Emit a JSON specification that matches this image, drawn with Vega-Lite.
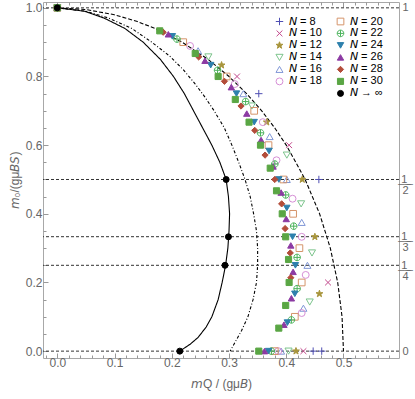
{
  "$schema": "https://vega.github.io/schema/vega-lite/v6.json",
  "width": 356,
  "height": 356,
  "autosize": "none",
  "padding": {"left": 43, "top": 2, "right": 16, "bottom": 41},
  "background": "white",
  "config": {"view": {"stroke": "#a8a8a8", "strokeWidth": 1}},
  "resolve": {"axis": {"x": "independent", "y": "independent"}},
  "layer": [
    {
      "data": {"values": [{"v": 0}, {"v": 0.25}, {"v": 0.333333}, {"v": 0.5}, {"v": 1}]},
      "mark": {"type": "rule", "strokeDash": [3, 2], "color": "#333333", "strokeWidth": 1},
      "encoding": {
        "y": {
          "field": "v", "type": "quantitative",
          "scale": {"domain": [-0.02, 1.017], "nice": false, "zero": false},
          "axis": {
            "orient": "left",
            "values": [0, 0.05, 0.1, 0.15, 0.2, 0.25, 0.3, 0.35, 0.4, 0.45, 0.5, 0.55, 0.6, 0.65, 0.7, 0.75, 0.8, 0.85, 0.9, 0.95, 1],
            "labelExpr": "abs(datum.value*5-round(datum.value*5))<0.001 ? format(datum.value,'.1f') : ''",
            "tickSize": {"condition": {"test": "abs(datum.value*5-round(datum.value*5))<0.001", "value": -5}, "value": -3},
            "tickColor": "#999999", "domain": false, "grid": false,
            "labelColor": "#666666", "labelFont": "Liberation Sans", "labelFontSize": 12, "labelPadding": 6,
            "labelOverlap": false, "labelFlush": false,
            "title": "𝘮₀/(gμ𝘉𝘚)", "titleColor": "#666666", "titleFont": "Liberation Sans", "titleFontSize": 12,
            "titleFontWeight": "normal", "titlePadding": 4
          }
        }
      }
    },
    {
      "data": {"values": [
        {"c": "solid", "i": 0, "x": 0, "y": 1},
        {"c": "solid", "i": 1, "x": 0.048, "y": 0.99},
        {"c": "solid", "i": 2, "x": 0.082, "y": 0.97},
        {"c": "solid", "i": 3, "x": 0.118, "y": 0.94},
        {"c": "solid", "i": 4, "x": 0.15, "y": 0.9},
        {"c": "solid", "i": 5, "x": 0.18, "y": 0.85},
        {"c": "solid", "i": 6, "x": 0.203, "y": 0.8},
        {"c": "solid", "i": 7, "x": 0.222, "y": 0.75},
        {"c": "solid", "i": 8, "x": 0.238, "y": 0.7},
        {"c": "solid", "i": 9, "x": 0.254, "y": 0.65},
        {"c": "solid", "i": 10, "x": 0.27, "y": 0.6},
        {"c": "solid", "i": 11, "x": 0.284, "y": 0.55},
        {"c": "solid", "i": 12, "x": 0.295, "y": 0.5},
        {"c": "solid", "i": 13, "x": 0.299, "y": 0.45},
        {"c": "solid", "i": 14, "x": 0.301, "y": 0.4},
        {"c": "solid", "i": 15, "x": 0.3, "y": 0.35},
        {"c": "solid", "i": 16, "x": 0.298, "y": 0.3},
        {"c": "solid", "i": 17, "x": 0.294, "y": 0.25},
        {"c": "solid", "i": 18, "x": 0.288, "y": 0.2},
        {"c": "solid", "i": 19, "x": 0.281, "y": 0.15},
        {"c": "solid", "i": 20, "x": 0.27, "y": 0.1},
        {"c": "solid", "i": 21, "x": 0.26, "y": 0.07},
        {"c": "solid", "i": 22, "x": 0.246, "y": 0.04},
        {"c": "solid", "i": 23, "x": 0.232, "y": 0.02},
        {"c": "solid", "i": 24, "x": 0.214, "y": 0},
        {"c": "dashdot", "i": 0, "x": 0, "y": 1},
        {"c": "dashdot", "i": 1, "x": 0.05, "y": 0.99},
        {"c": "dashdot", "i": 2, "x": 0.09, "y": 0.97},
        {"c": "dashdot", "i": 3, "x": 0.13, "y": 0.94},
        {"c": "dashdot", "i": 4, "x": 0.165, "y": 0.9},
        {"c": "dashdot", "i": 5, "x": 0.196, "y": 0.86},
        {"c": "dashdot", "i": 6, "x": 0.22, "y": 0.82},
        {"c": "dashdot", "i": 7, "x": 0.24, "y": 0.78},
        {"c": "dashdot", "i": 8, "x": 0.258, "y": 0.74},
        {"c": "dashdot", "i": 9, "x": 0.274, "y": 0.7},
        {"c": "dashdot", "i": 10, "x": 0.292, "y": 0.65},
        {"c": "dashdot", "i": 11, "x": 0.305, "y": 0.6},
        {"c": "dashdot", "i": 12, "x": 0.317, "y": 0.55},
        {"c": "dashdot", "i": 13, "x": 0.328, "y": 0.5},
        {"c": "dashdot", "i": 14, "x": 0.337, "y": 0.45},
        {"c": "dashdot", "i": 15, "x": 0.343, "y": 0.4},
        {"c": "dashdot", "i": 16, "x": 0.348, "y": 0.35},
        {"c": "dashdot", "i": 17, "x": 0.35, "y": 0.3},
        {"c": "dashdot", "i": 18, "x": 0.35, "y": 0.25},
        {"c": "dashdot", "i": 19, "x": 0.348, "y": 0.2},
        {"c": "dashdot", "i": 20, "x": 0.342, "y": 0.15},
        {"c": "dashdot", "i": 21, "x": 0.333, "y": 0.1},
        {"c": "dashdot", "i": 22, "x": 0.322, "y": 0.06},
        {"c": "dashdot", "i": 23, "x": 0.312, "y": 0.03},
        {"c": "dashdot", "i": 24, "x": 0.302, "y": 0},
        {"c": "dashed", "i": 0, "x": 0, "y": 1},
        {"c": "dashed", "i": 1, "x": 0.05, "y": 0.995},
        {"c": "dashed", "i": 2, "x": 0.0995, "y": 0.98},
        {"c": "dashed", "i": 3, "x": 0.14, "y": 0.96},
        {"c": "dashed", "i": 4, "x": 0.1706, "y": 0.94},
        {"c": "dashed", "i": 5, "x": 0.2179, "y": 0.9},
        {"c": "dashed", "i": 6, "x": 0.2634, "y": 0.85},
        {"c": "dashed", "i": 7, "x": 0.3, "y": 0.8},
        {"c": "dashed", "i": 8, "x": 0.3307, "y": 0.75},
        {"c": "dashed", "i": 9, "x": 0.3571, "y": 0.7},
        {"c": "dashed", "i": 10, "x": 0.38, "y": 0.65},
        {"c": "dashed", "i": 11, "x": 0.4, "y": 0.6},
        {"c": "dashed", "i": 12, "x": 0.4167, "y": 0.55},
        {"c": "dashed", "i": 13, "x": 0.433, "y": 0.5},
        {"c": "dashed", "i": 14, "x": 0.4583, "y": 0.4},
        {"c": "dashed", "i": 15, "x": 0.477, "y": 0.3},
        {"c": "dashed", "i": 16, "x": 0.4899, "y": 0.2},
        {"c": "dashed", "i": 17, "x": 0.4975, "y": 0.1},
        {"c": "dashed", "i": 18, "x": 0.5, "y": 0}
      ]},
      "mark": {"type": "line", "color": "black", "strokeWidth": 1.1},
      "encoding": {
        "x": {
          "field": "x", "type": "quantitative",
          "scale": {"domain": [-0.025, 0.597], "nice": false, "zero": false},
          "axis": {
            "orient": "bottom",
            "values": [-0.02, 0, 0.02, 0.04, 0.06, 0.08, 0.1, 0.12, 0.14, 0.16, 0.18, 0.2, 0.22, 0.24, 0.26, 0.28, 0.3, 0.32, 0.34, 0.36, 0.38, 0.4, 0.42, 0.44, 0.46, 0.48, 0.5, 0.52, 0.54, 0.56, 0.58],
            "labelExpr": "datum.value>=0 && abs(datum.value*10-round(datum.value*10))<0.001 ? format(datum.value,'.1f') : ''",
            "tickSize": {"condition": {"test": "abs(datum.value*10-round(datum.value*10))<0.001", "value": -5}, "value": -3},
            "tickColor": "#999999", "domain": false, "grid": false,
            "labelColor": "#666666", "labelFont": "Liberation Sans", "labelFontSize": 12, "labelPadding": 4,
            "labelOverlap": false, "labelFlush": false,
            "title": "𝘮Q / (gμ𝘉)", "titleColor": "#666666", "titleFont": "Liberation Sans", "titleFontSize": 12,
            "titleFontWeight": "normal", "titlePadding": 8
          }
        },
        "y": {
          "field": "y", "type": "quantitative",
          "scale": {"domain": [-0.02, 1.017], "nice": false, "zero": false},
          "axis": {
            "orient": "right",
            "values": [0, 0.25, 0.333333, 0.5, 1],
            "labelExpr": "datum.value > 0.9 ? '1' : datum.value > 0.4 ? ['\u2009\u03321\u0332\u2009\u0332','2'] : datum.value > 0.3 ? ['\u2009\u03321\u0332\u2009\u0332','3'] : datum.value > 0.2 ? ['\u2009\u03321\u0332\u2009\u0332','4'] : '0'",
            "ticks": false, "domain": false, "grid": false, "title": null,
            "labelAlign": "center", "labelPadding": 6, "labelLineHeight": 11,
            "labelColor": "#666666", "labelFont": "Liberation Sans", "labelFontSize": 11,
            "labelOverlap": false, "labelFlush": false
          }
        },
        "detail": {"field": "c", "type": "nominal"},
        "order": {"field": "i", "type": "quantitative"},
        "strokeDash": {
          "field": "c", "type": "nominal",
          "scale": {"domain": ["solid", "dashdot", "dashed"], "range": [[1, 0], [3, 2, 1, 2], [4, 2]]},
          "legend": null
        }
      }
    },
    {
      "data": {"values": [
        {"N": "8", "x": 0, "y": 1}, {"N": "8", "x": 0.352, "y": 0.75}, {"N": "8", "x": 0.457, "y": 0.5}, {"N": "8", "x": 0.447, "y": 0}, {"N": "8", "x": 0.462, "y": 0},
        {"N": "10", "x": 0, "y": 1}, {"N": "10", "x": 0.314, "y": 0.8}, {"N": "10", "x": 0.405, "y": 0.6}, {"N": "10", "x": 0.473, "y": 0.2}, {"N": "10", "x": 0.43, "y": 0},
        {"N": "12", "x": 0, "y": 1}, {"N": "12", "x": 0.287, "y": 0.833}, {"N": "12", "x": 0.366, "y": 0.667}, {"N": "12", "x": 0.428, "y": 0.5}, {"N": "12", "x": 0.45, "y": 0.333}, {"N": "12", "x": 0.458, "y": 0.167}, {"N": "12", "x": 0.417, "y": 0},
        {"N": "14", "x": 0, "y": 1}, {"N": "14", "x": 0.264, "y": 0.857}, {"N": "14", "x": 0.34, "y": 0.714}, {"N": "14", "x": 0.401, "y": 0.571}, {"N": "14", "x": 0.426, "y": 0.429}, {"N": "14", "x": 0.445, "y": 0.286}, {"N": "14", "x": 0.441, "y": 0.143}, {"N": "14", "x": 0.404, "y": 0},
        {"N": "16", "x": 0, "y": 1}, {"N": "16", "x": 0.246, "y": 0.875}, {"N": "16", "x": 0.325, "y": 0.75}, {"N": "16", "x": 0.371, "y": 0.625}, {"N": "16", "x": 0.401, "y": 0.5}, {"N": "16", "x": 0.427, "y": 0.375}, {"N": "16", "x": 0.437, "y": 0.25}, {"N": "16", "x": 0.43, "y": 0.125}, {"N": "16", "x": 0.391, "y": 0},
        {"N": "18", "x": 0, "y": 1}, {"N": "18", "x": 0.232, "y": 0.889}, {"N": "18", "x": 0.31, "y": 0.778}, {"N": "18", "x": 0.359, "y": 0.667}, {"N": "18", "x": 0.383, "y": 0.556}, {"N": "18", "x": 0.411, "y": 0.444}, {"N": "18", "x": 0.427, "y": 0.333}, {"N": "18", "x": 0.434, "y": 0.222}, {"N": "18", "x": 0.427, "y": 0.111}, {"N": "18", "x": 0.386, "y": 0},
        {"N": "20", "x": 0, "y": 1}, {"N": "20", "x": 0.22, "y": 0.9}, {"N": "20", "x": 0.296, "y": 0.8}, {"N": "20", "x": 0.344, "y": 0.7}, {"N": "20", "x": 0.369, "y": 0.6}, {"N": "20", "x": 0.395, "y": 0.5}, {"N": "20", "x": 0.412, "y": 0.4}, {"N": "20", "x": 0.423, "y": 0.3}, {"N": "20", "x": 0.427, "y": 0.2}, {"N": "20", "x": 0.415, "y": 0.1}, {"N": "20", "x": 0.38, "y": 0},
        {"N": "22", "x": 0, "y": 1}, {"N": "22", "x": 0.209, "y": 0.909}, {"N": "22", "x": 0.28, "y": 0.818}, {"N": "22", "x": 0.329, "y": 0.727}, {"N": "22", "x": 0.355, "y": 0.636}, {"N": "22", "x": 0.38, "y": 0.545}, {"N": "22", "x": 0.399, "y": 0.455}, {"N": "22", "x": 0.413, "y": 0.364}, {"N": "22", "x": 0.419, "y": 0.273}, {"N": "22", "x": 0.419, "y": 0.182}, {"N": "22", "x": 0.409, "y": 0.091}, {"N": "22", "x": 0.374, "y": 0},
        {"N": "24", "x": 0, "y": 1}, {"N": "24", "x": 0.201, "y": 0.917}, {"N": "24", "x": 0.268, "y": 0.833}, {"N": "24", "x": 0.313, "y": 0.75}, {"N": "24", "x": 0.344, "y": 0.667}, {"N": "24", "x": 0.37, "y": 0.583}, {"N": "24", "x": 0.387, "y": 0.5}, {"N": "24", "x": 0.401, "y": 0.417}, {"N": "24", "x": 0.411, "y": 0.333}, {"N": "24", "x": 0.416, "y": 0.25}, {"N": "24", "x": 0.415, "y": 0.167}, {"N": "24", "x": 0.402, "y": 0.083}, {"N": "24", "x": 0.369, "y": 0},
        {"N": "26", "x": 0, "y": 1}, {"N": "26", "x": 0.194, "y": 0.923}, {"N": "26", "x": 0.258, "y": 0.846}, {"N": "26", "x": 0.304, "y": 0.769}, {"N": "26", "x": 0.331, "y": 0.692}, {"N": "26", "x": 0.356, "y": 0.615}, {"N": "26", "x": 0.377, "y": 0.538}, {"N": "26", "x": 0.391, "y": 0.462}, {"N": "26", "x": 0.4, "y": 0.385}, {"N": "26", "x": 0.408, "y": 0.308}, {"N": "26", "x": 0.412, "y": 0.231}, {"N": "26", "x": 0.409, "y": 0.154}, {"N": "26", "x": 0.396, "y": 0.077}, {"N": "26", "x": 0.362, "y": 0},
        {"N": "28", "x": 0, "y": 1}, {"N": "28", "x": 0.185, "y": 0.929}, {"N": "28", "x": 0.247, "y": 0.857}, {"N": "28", "x": 0.292, "y": 0.786}, {"N": "28", "x": 0.321, "y": 0.714}, {"N": "28", "x": 0.345, "y": 0.643}, {"N": "28", "x": 0.363, "y": 0.571}, {"N": "28", "x": 0.38, "y": 0.5}, {"N": "28", "x": 0.392, "y": 0.429}, {"N": "28", "x": 0.398, "y": 0.357}, {"N": "28", "x": 0.407, "y": 0.286}, {"N": "28", "x": 0.408, "y": 0.214},
        {"N": "30", "x": 0, "y": 1}, {"N": "30", "x": 0.179, "y": 0.933}, {"N": "30", "x": 0.241, "y": 0.867}, {"N": "30", "x": 0.281, "y": 0.8}, {"N": "30", "x": 0.311, "y": 0.733}, {"N": "30", "x": 0.335, "y": 0.667}, {"N": "30", "x": 0.355, "y": 0.6}, {"N": "30", "x": 0.372, "y": 0.533}, {"N": "30", "x": 0.383, "y": 0.467}, {"N": "30", "x": 0.393, "y": 0.4}, {"N": "30", "x": 0.399, "y": 0.333}, {"N": "30", "x": 0.404, "y": 0.267}, {"N": "30", "x": 0.405, "y": 0.2}, {"N": "30", "x": 0.399, "y": 0.133}, {"N": "30", "x": 0.387, "y": 0.067}, {"N": "30", "x": 0.352, "y": 0},
        {"N": "∞", "x": 0, "y": 1}, {"N": "∞", "x": 0.295, "y": 0.5}, {"N": "∞", "x": 0.299, "y": 0.333}, {"N": "∞", "x": 0.293, "y": 0.25}, {"N": "∞", "x": 0.214, "y": 0}
      ]},
      "mark": {"type": "point", "strokeWidth": 1, "opacity": 1},
      "encoding": {
        "x": {
          "field": "x", "type": "quantitative",
          "scale": {"domain": [-0.025, 0.597], "nice": false, "zero": false},
          "axis": {
            "orient": "top",
            "values": [-0.02, 0, 0.02, 0.04, 0.06, 0.08, 0.1, 0.12, 0.14, 0.16, 0.18, 0.2, 0.22, 0.24, 0.26, 0.28, 0.3, 0.32, 0.34, 0.36, 0.38, 0.4, 0.42, 0.44, 0.46, 0.48, 0.5, 0.52, 0.54, 0.56, 0.58],
            "labels": false, "title": null, "domain": false, "grid": false,
            "tickColor": "#999999",
            "tickSize": {"condition": {"test": "abs(datum.value*10-round(datum.value*10))<0.001", "value": -5}, "value": -3}
          }
        },
        "y": {
          "field": "y", "type": "quantitative",
          "scale": {"domain": [-0.02, 1.017], "nice": false, "zero": false},
          "axis": null
        },
        "shape": {
          "field": "N", "type": "nominal",
          "scale": {
            "domain": ["8", "10", "12", "14", "16", "18", "b", "20", "22", "24", "26", "28", "30", "∞"],
            "range": [
              "M-1,0L1,0M0,-1L0,1",
              "M-0.8,-0.8L0.8,0.8M-0.8,0.8L0.8,-0.8",
              "M0,-1L0.235,-0.324L0.951,-0.309L0.38,0.124L0.588,0.809L0,0.4L-0.588,0.809L-0.38,0.124L-0.951,-0.309L-0.235,-0.324Z",
              "triangle-down",
              "triangle-up",
              "circle",
              "circle",
              "square",
              "M-1,0A1,1,0,1,1,1,0A1,1,0,1,1,-1,0ZM-1,0L1,0M0,-1L0,1",
              "triangle-down",
              "triangle-up",
              "diamond",
              "square",
              "circle"
            ]
          },
          "legend": {
            "orient": "none", "legendX": 231, "legendY": 14, "columns": 2, "title": null,
            "labelExpr": "datum.label=='∞' ? '𝘕 → ∞' : datum.label=='b' ? '' : '𝘕 = ' + datum.label",
            "labelFont": "Liberation Sans", "labelFontSize": 11, "labelColor": "black", "labelOffset": 4,
            "symbolStrokeWidth": 1, "symbolOpacity": 1, "rowPadding": 0, "columnPadding": 13, "clipHeight": 10.8,
            "padding": 0
          }
        },
        "stroke": {
          "field": "N", "type": "nominal",
          "scale": {
            "domain": ["8", "10", "12", "14", "16", "18", "b", "20", "22", "24", "26", "28", "30", "∞"],
            "range": ["#4f4fb3", "#c2488c", "#a8953c", "#7cc48c", "#8097d6", "#d68fd6", "transparent", "#d5946a", "#4cb35c", "#2e80ad", "#8c3aa3", "#b34d3a", "#5aa644", "black"]
          }
        },
        "fill": {
          "field": "N", "type": "nominal",
          "scale": {
            "domain": ["8", "10", "12", "14", "16", "18", "b", "20", "22", "24", "26", "28", "30", "∞"],
            "range": ["transparent", "transparent", "#a8953c", "transparent", "transparent", "transparent", "transparent", "transparent", "transparent", "#2e80ad", "#8c3aa3", "#b34d3a", "#5aa644", "black"]
          }
        },
        "size": {
          "field": "N", "type": "nominal",
          "scale": {
            "domain": ["8", "10", "12", "14", "16", "18", "b", "20", "22", "24", "26", "28", "30", "∞"],
            "range": [55, 36, 120, 55, 55, 40, 10, 32, 80, 50, 55, 50, 36, 64]
          }
        }
      }
    }
  ]
}
